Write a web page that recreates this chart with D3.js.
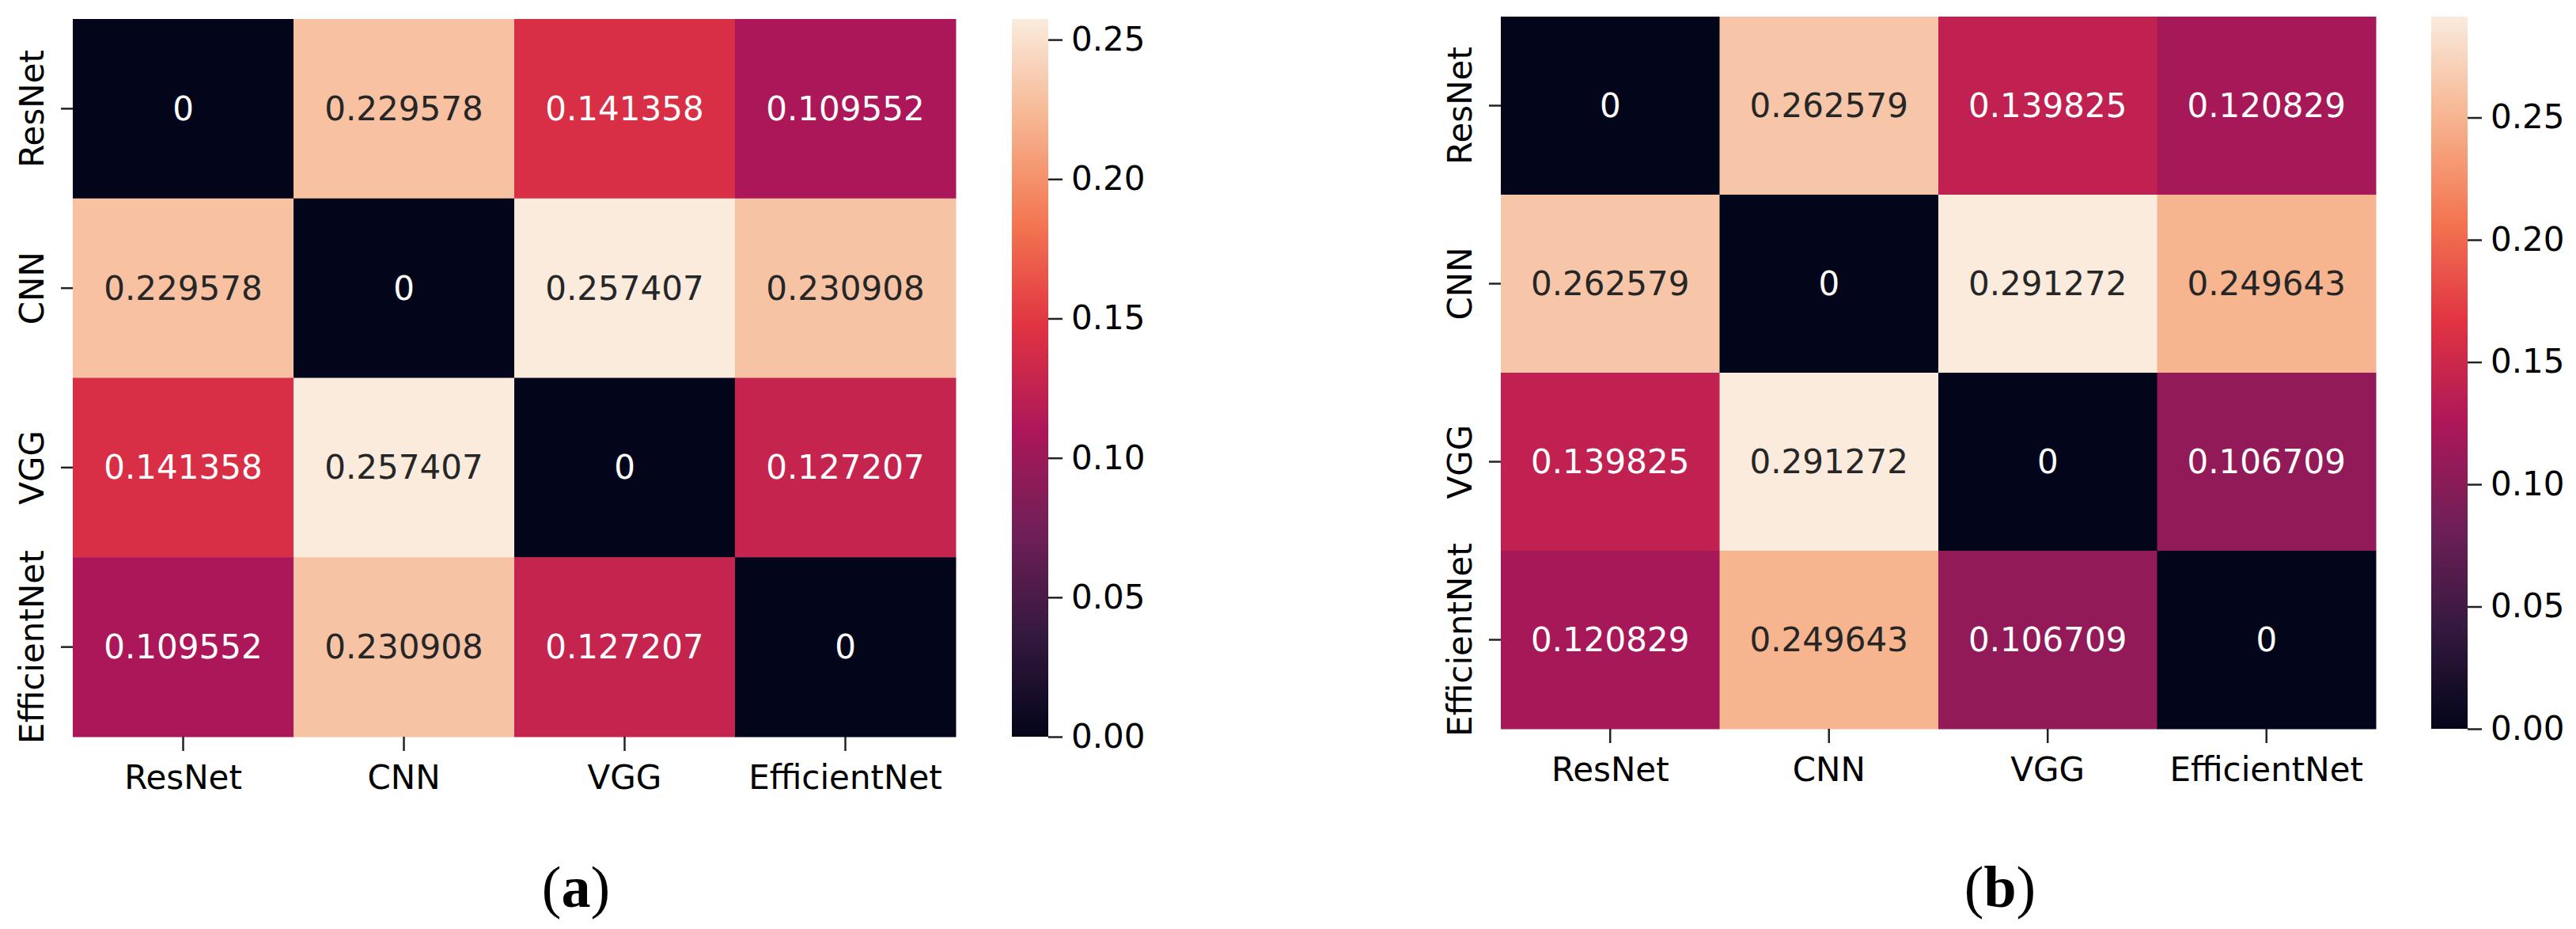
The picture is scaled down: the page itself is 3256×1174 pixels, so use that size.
<!DOCTYPE html>
<html>
<head>
<meta charset="utf-8">
<script src="https://cdn.jsdelivr.net/npm/d3@7"></script>
<style>
  body { margin: 0; background: #fff; }
  svg text { font-family: "DejaVu Sans", sans-serif; }
</style>
</head>
<body>
<svg id="chart" width="3256" height="1174"></svg>
<script>
// model names, same order for rows and columns
const models = ['ResNet', 'CNN', 'VGG', 'EfficientNet'];

// (a) pairwise distances
const distA = [
  [0, 0.229578, 0.141358, 0.109552],
  [0.229578, 0, 0.257407, 0.230908],
  [0.141358, 0.257407, 0, 0.127207],
  [0.109552, 0.230908, 0.127207, 0]
];

// (b) pairwise distances
const distB = [
  [0, 0.262579, 0.139825, 0.120829],
  [0.262579, 0, 0.291272, 0.249643],
  [0.139825, 0.291272, 0, 0.106709],
  [0.120829, 0.249643, 0.106709, 0]
];

const cbarTicks = [0, 0.05, 0.10, 0.15, 0.20, 0.25];
const panelLabels = ['a', 'b'];

// seaborn "rocket" colormap, sampled
const rocket = ['#03051a', '#35193e', '#701f57', '#ad1759', '#e13342', '#f37651', '#f6b48f', '#faebdd'];

const fontSize = 42;
const svg = d3.select('#chart');
const fmt = d3.format('.6~g');

// relative luminance, same rule seaborn uses to pick annotation colour
function relLum(c) {
  const rgb = d3.rgb(c);
  const lin = [rgb.r, rgb.g, rgb.b].map(v => {
    v /= 255;
    return v <= 0.03928 ? v / 12.92 : Math.pow((v + 0.055) / 1.055, 2.4);
  });
  return 0.2126 * lin[0] + 0.7152 * lin[1] + 0.0722 * lin[2];
}

function drawPanel(data, label, box, idx) {
  const vmax = d3.max(data.flat());
  const color = d3.scaleLinear()
    .domain(rocket.map((_, i) => i / (rocket.length - 1) * vmax))
    .range(rocket)
    .interpolate(d3.interpolateRgb);

  const x = d3.scaleBand().domain(models).range([box.x0, box.x1]);
  const y = d3.scaleBand().domain(models).range([box.y0, box.y1]);

  const cells = data.flatMap((row, i) => row.map((v, j) => ({ r: models[i], c: models[j], v })));
  const g = svg.append('g');

  // cells
  g.selectAll('rect.cell').data(cells).join('rect')
    .attr('class', 'cell')
    .attr('x', d => x(d.c))
    .attr('y', d => y(d.r))
    .attr('width', x.bandwidth() + 0.5)
    .attr('height', y.bandwidth() + 0.5)
    .attr('fill', d => color(d.v));

  // annotations
  g.selectAll('text.annot').data(cells).join('text')
    .attr('class', 'annot')
    .attr('x', d => x(d.c) + x.bandwidth() / 2)
    .attr('y', d => y(d.r) + y.bandwidth() / 2)
    .attr('text-anchor', 'middle')
    .attr('dominant-baseline', 'central')
    .attr('fill', d => relLum(color(d.v)) > 0.408 ? '#262626' : '#ffffff')
    .style('font-size', fontSize + 'px')
    .text(d => fmt(d.v));

  // y axis (rotated labels)
  const yAx = g.append('g')
    .attr('transform', `translate(${box.x0},0)`)
    .call(d3.axisLeft(y).tickSize(15));
  yAx.select('.domain').remove();
  yAx.selectAll('.tick line').attr('stroke', '#222').attr('stroke-width', 2.5);
  yAx.selectAll('.tick text')
    .attr('x', null).attr('dy', null)
    .attr('text-anchor', 'middle')
    .attr('transform', 'translate(-37,0) rotate(-90)')
    .attr('fill', '#000')
    .style('font-size', fontSize + 'px')
    .style('font-family', '"DejaVu Sans", sans-serif');

  // x axis
  const xAx = g.append('g')
    .attr('transform', `translate(0,${box.y1})`)
    .call(d3.axisBottom(x).tickSize(18));
  xAx.select('.domain').remove();
  xAx.selectAll('.tick line').attr('stroke', '#222').attr('stroke-width', 2.5);
  xAx.selectAll('.tick text')
    .attr('y', 66).attr('dy', null)
    .attr('fill', '#000')
    .style('font-size', fontSize + 'px')
    .style('font-family', '"DejaVu Sans", sans-serif');

  // colorbar
  const gradId = 'grad' + idx;
  const grad = svg.append('defs').append('linearGradient')
    .attr('id', gradId)
    .attr('x1', 0).attr('y1', 1).attr('x2', 0).attr('y2', 0);
  grad.selectAll('stop').data(rocket).join('stop')
    .attr('offset', (_, i) => i / (rocket.length - 1))
    .attr('stop-color', d => d);

  g.append('rect')
    .attr('x', box.cb0).attr('y', box.y0)
    .attr('width', box.cb1 - box.cb0).attr('height', box.y1 - box.y0)
    .attr('fill', `url(#${gradId})`);

  const cScale = d3.scaleLinear().domain([0, vmax]).range([box.y1, box.y0]);
  const cAx = g.append('g')
    .attr('transform', `translate(${box.cb1},0)`)
    .call(d3.axisRight(cScale).tickValues(cbarTicks).tickFormat(d3.format('.2f')).tickSize(18).tickPadding(11));
  cAx.select('.domain').remove();
  cAx.selectAll('.tick line').attr('stroke', '#222').attr('stroke-width', 2.5);
  cAx.selectAll('.tick text')
    .attr('fill', '#000')
    .style('font-size', fontSize + 'px')
    .style('font-family', '"DejaVu Sans", sans-serif');

  // sub-figure caption
  const cap = svg.append('text')
    .attr('x', box.capX).attr('y', 1146)
    .attr('text-anchor', 'middle')
    .style('font-family', '"Liberation Serif", "Times New Roman", serif')
    .style('font-size', '74px')
    .attr('fill', '#000');
  cap.append('tspan').text('(');
  cap.append('tspan').style('font-weight', 'bold').text(label);
  cap.append('tspan').text(')');
}

const boxes = [
  { x0: 92, x1: 1208, y0: 24, y1: 931, cb0: 1279, cb1: 1325, capX: 728 },
  { x0: 1897, x1: 3003, y0: 21, y1: 921, cb0: 3073, cb1: 3119, capX: 2528 }
];

drawPanel(distA, panelLabels[0], boxes[0], 0);
drawPanel(distB, panelLabels[1], boxes[1], 1);
</script>
</body>
</html>
